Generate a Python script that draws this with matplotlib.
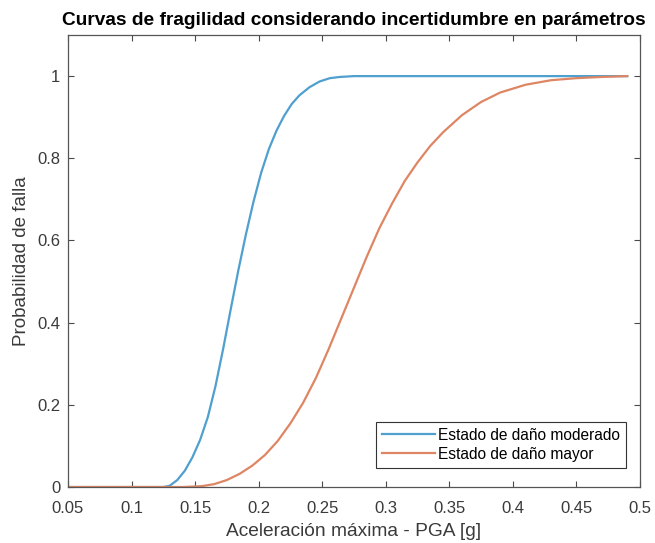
import matplotlib
matplotlib.use("Agg")
import matplotlib.pyplot as plt
from matplotlib.ticker import FuncFormatter

plt.rcParams["font.family"] = ["Liberation Sans", "DejaVu Sans"]
plt.rcParams["font.size"] = 12

# PGA values [g] and probability of failure for each damage state
pga_moderado = [0.05, 0.10, 0.125, 0.130, 0.136, 0.142, 0.148, 0.154, 0.160,
                0.166, 0.172, 0.178, 0.184, 0.190, 0.196, 0.202, 0.208, 0.214,
                0.220, 0.226, 0.232, 0.240, 0.248, 0.256, 0.264, 0.275, 0.30,
                0.35, 0.40, 0.45, 0.49]
prob_moderado = [0, 0, 0, 0.003, 0.017, 0.040, 0.073, 0.115, 0.17,
                 0.245, 0.335, 0.432, 0.527, 0.615, 0.695, 0.765, 0.822, 0.867,
                 0.903, 0.932, 0.953, 0.973, 0.987, 0.995, 0.998, 1.0, 1.0,
                 1.0, 1.0, 1.0, 1.0]

pga_mayor = [0.05, 0.14, 0.155, 0.165, 0.175, 0.185, 0.195, 0.205, 0.215,
             0.225, 0.235, 0.245, 0.255, 0.265, 0.275, 0.285, 0.295, 0.305,
             0.315, 0.325, 0.335, 0.345, 0.36, 0.375, 0.39, 0.41, 0.43,
             0.45, 0.47, 0.49]
prob_mayor = [0, 0, 0.002, 0.007, 0.017, 0.032, 0.052, 0.078, 0.112,
              0.155, 0.205, 0.265, 0.335, 0.41, 0.485, 0.56, 0.63, 0.69,
              0.745, 0.79, 0.83, 0.863, 0.905, 0.937, 0.96, 0.979, 0.99,
              0.995, 0.998, 1.0]

x_ticks = [0.05, 0.1, 0.15, 0.2, 0.25, 0.3, 0.35, 0.4, 0.45, 0.5]
y_ticks = [0, 0.2, 0.4, 0.6, 0.8, 1]

fig = plt.figure(figsize=(6.55, 5.43), dpi=100)
ax = fig.add_axes([0.1038, 0.1031, 0.8732, 0.8324])

ax.plot(pga_moderado, prob_moderado, color="#4f9fcf", lw=1.6,
        label="Estado de daño moderado")
ax.plot(pga_mayor, prob_mayor, color="#de8663", lw=1.6,
        label="Estado de daño mayor")

ax.set_xlim(0.05, 0.5)
ax.set_ylim(0, 1.1)
ax.set_xticks(x_ticks)
ax.set_yticks(y_ticks)
ax.xaxis.set_major_formatter(FuncFormatter(lambda v, p: "%g" % v))
ax.yaxis.set_major_formatter(FuncFormatter(lambda v, p: "%g" % v))
ax.tick_params(direction="in", top=True, right=True, length=4, width=0.8,
               colors="#4a4a4a", labelcolor="#3a3a3a", labelsize=12)
ax.tick_params(axis="x", pad=10)
ax.tick_params(axis="y", pad=5.5)
for s in ax.spines.values():
    s.set_color("#555555")
    s.set_linewidth(0.9)

ax.set_title("Curvas de fragilidad considerando incertidumbre en parámetros",
             fontsize=13.8, fontweight="bold", pad=7)
ax.set_xlabel("Aceleración máxima - PGA [g]", fontsize=13.8, color="#3a3a3a",
              labelpad=5)
ax.set_ylabel("Probabilidad de falla", fontsize=13.5, color="#3a3a3a",
              labelpad=5)

leg = ax.legend(loc="lower right", bbox_to_anchor=(0.976, 0.042),
                borderaxespad=0, fancybox=False, framealpha=1,
                edgecolor="#333333", fontsize=11.2, handlelength=3.4,
                borderpad=0.4, labelspacing=0.25, handletextpad=0.2)
leg.get_frame().set_linewidth(0.8)

fig.savefig("out.png", dpi=100)
